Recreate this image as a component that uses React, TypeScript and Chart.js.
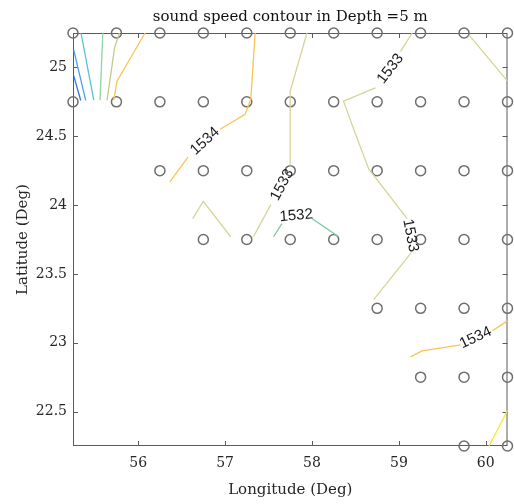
import React, { useEffect, useRef } from "react";
import { Chart, registerables } from "chart.js";

Chart.register(...registerables);

// Axis ranges and ticks
const lonMin = 55.25;
const lonMax = 60.25;
const latMin = 22.25;
const latMax = 25.25;
const xTicks = [56, 57, 58, 59, 60];
const yTicks = [22.5, 23, 23.5, 24, 24.5, 25];

// Station rows (latitude -> longitudes)
const stationLats = [25.25, 24.75, 24.25, 23.75, 23.25, 22.75, 22.25];
const row2525 = [55.25, 55.75, 56.25, 56.75, 57.25, 57.75, 58.25, 58.75, 59.25, 59.75, 60.25];
const row2475 = [55.25, 55.75, 56.25, 56.75, 57.25, 57.75, 58.25, 58.75, 59.25, 59.75, 60.25];
const row2425 = [56.25, 56.75, 57.25, 57.75, 58.25, 58.75, 59.25, 59.75, 60.25];
const row2375 = [56.75, 57.25, 57.75, 58.25, 58.75, 59.25, 59.75, 60.25];
const row2325 = [58.75, 59.25, 59.75, 60.25];
const row2275 = [59.25, 59.75, 60.25];
const row2225 = [59.75, 60.25];
const stationRows = [row2525, row2475, row2425, row2375, row2325, row2275, row2225];

// Contour segments [lon, lat]
const c1528 = [[55.258, 24.94], [55.339, 24.76]];
const c1529 = [[55.258, 25.127], [55.396, 24.76]];
const c1530 = [[55.342, 25.25], [55.489, 24.762]];
const c1531 = [[55.593, 25.25], [55.561, 24.762]];
const c1532a = [[55.785, 25.25], [55.728, 25.142], [55.642, 24.762]];
const c1534a = [[56.08, 25.25], [55.757, 24.902], [55.719, 24.762]];
const c1534b = [[57.346, 25.25], [57.296, 24.767], [57.23, 24.659], [56.942, 24.551]];
const c1534c = [[56.573, 24.349], [56.365, 24.169]];
const c1533a = [[57.942, 25.25], [57.749, 24.827], [57.749, 24.286]];
const c1533b = [[57.527, 24.003], [57.326, 23.77]];
const c1533c = [[56.627, 23.902], [56.749, 24.027], [57.065, 23.77]];
const c1533d = [[59.153, 25.25], [59.018, 25.115]];
const c1533e = [[58.73, 24.851], [58.364, 24.755], [58.48, 24.551], [58.653, 24.263], [59.095, 23.902]];
const c1533f = [[59.145, 23.657], [58.71, 23.313]];
const c1533g = [[59.806, 25.236], [60.25, 24.9]];
const c1532b = [[57.557, 23.77], [57.654, 23.866]];
const c1532c = [[58.0, 23.902], [58.307, 23.77]];
const c1534d = [[59.134, 22.897], [59.268, 22.941], [59.71, 22.984]];
const c1534e = [[60.076, 23.087], [60.25, 23.159]];
const c1535 = [[60.037, 22.25], [60.25, 22.508]];

// Contour labels: text, lon, lat, angle (deg)
const labelTexts = ["1534", "1533", "1533", "1533", "1532", "1534"];
const labelLons = [56.769, 57.657, 58.903, 59.133, 57.819, 59.883];
const labelLats = [24.464, 24.147, 24.99, 23.779, 23.923, 23.037];
const labelAngles = [-43, -62, -52, 79, -5, -25];

const segments = [
  { pts: c1528, color: "#3474e2" },
  { pts: c1529, color: "#4a9fe6" },
  { pts: c1530, color: "#52c4d6" },
  { pts: c1531, color: "#8ed2aa" },
  { pts: c1532a, color: "#c4ca8c" },
  { pts: c1534a, color: "#f9c455" },
  { pts: c1534b, color: "#f9c455" },
  { pts: c1534c, color: "#f9c455" },
  { pts: c1533a, color: "#d6d596" },
  { pts: c1533b, color: "#d6d596" },
  { pts: c1533c, color: "#d6d596" },
  { pts: c1533d, color: "#d6d596" },
  { pts: c1533e, color: "#d6d596" },
  { pts: c1533f, color: "#d6d596" },
  { pts: c1533g, color: "#d6d596" },
  { pts: c1532b, color: "#7cc8a0" },
  { pts: c1532c, color: "#7cc8a0" },
  { pts: c1534d, color: "#f9c455" },
  { pts: c1534e, color: "#f9c455" },
  { pts: c1535, color: "#f4ea2a" },
];

const boxPlugin = {
  id: "boxPlugin",
  beforeDatasetsDraw(chart: any) {
    const { ctx, chartArea } = chart;
    const { left, right, top, bottom } = chartArea;
    const xs = chart.scales.x;
    const ys = chart.scales.y;
    ctx.save();
    ctx.strokeStyle = "#5a5a5a";
    ctx.lineWidth = 1;
    ctx.strokeRect(left + 0.5, top + 0.5, right - left - 1, bottom - top - 1);
    const tl = 5;
    ctx.beginPath();
    xTicks.forEach((v) => {
      const px = Math.round(xs.getPixelForValue(v)) + 0.5;
      ctx.moveTo(px, bottom);
      ctx.lineTo(px, bottom - tl);
      ctx.moveTo(px, top);
      ctx.lineTo(px, top + tl);
    });
    yTicks.forEach((v) => {
      const py = Math.round(ys.getPixelForValue(v)) + 0.5;
      ctx.moveTo(left, py);
      ctx.lineTo(left + tl, py);
      ctx.moveTo(right, py);
      ctx.lineTo(right - tl, py);
    });
    ctx.stroke();
    ctx.restore();
  },
  afterDraw(chart: any) {
    const { ctx, chartArea } = chart;
    const xs = chart.scales.x;
    const ys = chart.scales.y;
    ctx.save();
    ctx.fillStyle = "#1a1a1a";
    ctx.font = "15px 'Liberation Sans', Arial, sans-serif";
    ctx.textAlign = "center";
    ctx.textBaseline = "middle";
    labelTexts.forEach((t, i) => {
      const px = xs.getPixelForValue(labelLons[i]);
      const py = ys.getPixelForValue(labelLats[i]);
      ctx.save();
      ctx.translate(px, py);
      ctx.rotate((labelAngles[i] * Math.PI) / 180);
      ctx.fillText(t, 0, 0);
      ctx.restore();
    });
    // title
    ctx.fillStyle = "#111";
    ctx.font = "15px 'DejaVu Serif', serif";
    ctx.textAlign = "center";
    ctx.textBaseline = "alphabetic";
    ctx.fillText("sound speed contour in Depth =5 m", (chartArea.left + chartArea.right) / 2, 21);
    ctx.restore();
  },
};

function App() {
  const canvasRef = useRef<HTMLCanvasElement | null>(null);

  useEffect(() => {
    const canvas = canvasRef.current;
    if (!canvas) return;

    const stationData: { x: number; y: number }[] = [];
    stationRows.forEach((row, i) => {
      row.forEach((lon) => stationData.push({ x: lon, y: stationLats[i] }));
    });

    const datasets: any[] = segments.map((s) => ({
      type: "line",
      data: s.pts.map((p) => ({ x: p[0], y: p[1] })),
      borderColor: s.color,
      borderWidth: 1.3,
      pointRadius: 0,
      tension: 0,
      fill: false,
      clip: false,
    }));
    datasets.push({
      type: "scatter",
      data: stationData,
      pointRadius: 5,
      pointStyle: "circle",
      backgroundColor: "rgba(0,0,0,0)",
      borderColor: "#6e6e6e",
      borderWidth: 1.5,
      clip: false,
    });

    const tickFont = { family: "'DejaVu Serif', serif", size: 14 };
    const titleFont = { family: "'DejaVu Serif', serif", size: 15 };

    const chart = new Chart(canvas, {
      type: "scatter",
      data: { datasets },
      options: {
        animation: false,
        responsive: false,
        maintainAspectRatio: false,
        layout: { padding: { top: 33, right: 6, left: 0, bottom: 0 } },
        plugins: {
          legend: { display: false },
          title: { display: false },
          tooltip: { enabled: false },
        },
        scales: {
          x: {
            type: "linear",
            min: lonMin,
            max: lonMax,
            afterBuildTicks: (scale: any) => {
              scale.ticks = xTicks.map((v) => ({ value: v }));
            },
            afterFit: (scale: any) => {
              scale.height = 58;
            },
            grid: { display: false, drawTicks: false },
            border: { display: false },
            ticks: {
              color: "#262626",
              font: tickFont,
              padding: 9,
              maxRotation: 0,
              callback: (v: any) => String(v),
            },
            title: {
              display: true,
              text: "Longitude (Deg)",
              color: "#262626",
              font: titleFont,
              padding: { top: 0, bottom: 5 },
            },
          },
          y: {
            type: "linear",
            min: latMin,
            max: latMax,
            afterBuildTicks: (scale: any) => {
              scale.ticks = yTicks.map((v) => ({ value: v }));
            },
            afterFit: (scale: any) => {
              scale.width = 73;
            },
            grid: { display: false, drawTicks: false },
            border: { display: false },
            ticks: {
              color: "#262626",
              font: tickFont,
              padding: 6,
              callback: (v: any) => String(v),
            },
            title: {
              display: true,
              text: "Latitude (Deg)",
              color: "#262626",
              font: titleFont,
              padding: { top: 14, bottom: 0 },
            },
          },
        },
      },
      plugins: [boxPlugin],
    } as any);

    return () => {
      chart.destroy();
    };
  }, []);

  return (
    <div style={{ position: "fixed", left: 0, top: 0, width: 514, height: 504, background: "#fff" }}>
      <canvas ref={canvasRef} width={514} height={504} style={{ width: 514, height: 504, display: "block" }} />
    </div>
  );
}

export default App;
